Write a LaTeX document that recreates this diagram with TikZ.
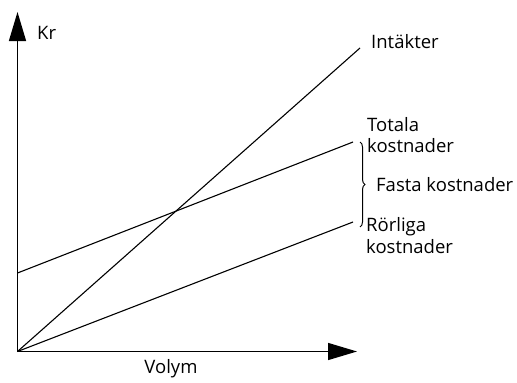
\documentclass[tikz,border=0pt]{standalone}
\usepackage{fontspec}
\setmainfont{Open Sans}
\usetikzlibrary{arrows.meta,decorations.pathreplacing}
\begin{document}
\begin{tikzpicture}[x=1pt,y=-1pt,
  axis/.style={line width=1.4pt,-{Triangle[length=29pt,width=17pt]}},
  curve/.style={line width=1.1pt},
  lbl/.style={anchor=base west,inner sep=0pt,font=\fontsize{18.5}{22}\selectfont},
  lblc/.style={anchor=base,inner sep=0pt,font=\fontsize{18.5}{22}\selectfont},
  bracestyle/.style={line width=1pt,decorate,decoration={brace,amplitude=5pt}}]
\useasboundingbox (0,0) rectangle (517,383);
\coordinate (O) at (17.5,351.5);
\coordinate (Ytop) at (17.5,12);
\coordinate (Xend) at (357,351.5);
\coordinate (Iend) at (360,48);
\coordinate (T0) at (17.5,273);
\coordinate (T1) at (353,142);
\coordinate (R1) at (353,222);
\coordinate (Btop) at (360,142);
\coordinate (Bbot) at (360,227);
\draw[axis] (O) -- (Ytop);
\draw[axis] (O) -- (Xend);
\draw[curve] (O) -- (Iend);
\draw[curve] (T0) -- (T1);
\draw[curve] (O) -- (R1);
\draw[bracestyle] (Btop) -- (Bbot);
\node[lbl] (kr) at (37,39) {Kr};
\node[lbl] (int) at (371,48) {Intäkter};
\node[lbl] (tot1) at (367,131) {Totala};
\node[lbl] (tot2) at (367,152) {kostnader};
\node[lbl] (fasta) at (376,191) {Fasta kostnader};
\node[lbl] (ror1) at (366,231) {Rörliga};
\node[lbl] (ror2) at (366,253) {kostnader};
\node[lblc] (vol) at (171,373) {Volym};
\end{tikzpicture}
\end{document}
